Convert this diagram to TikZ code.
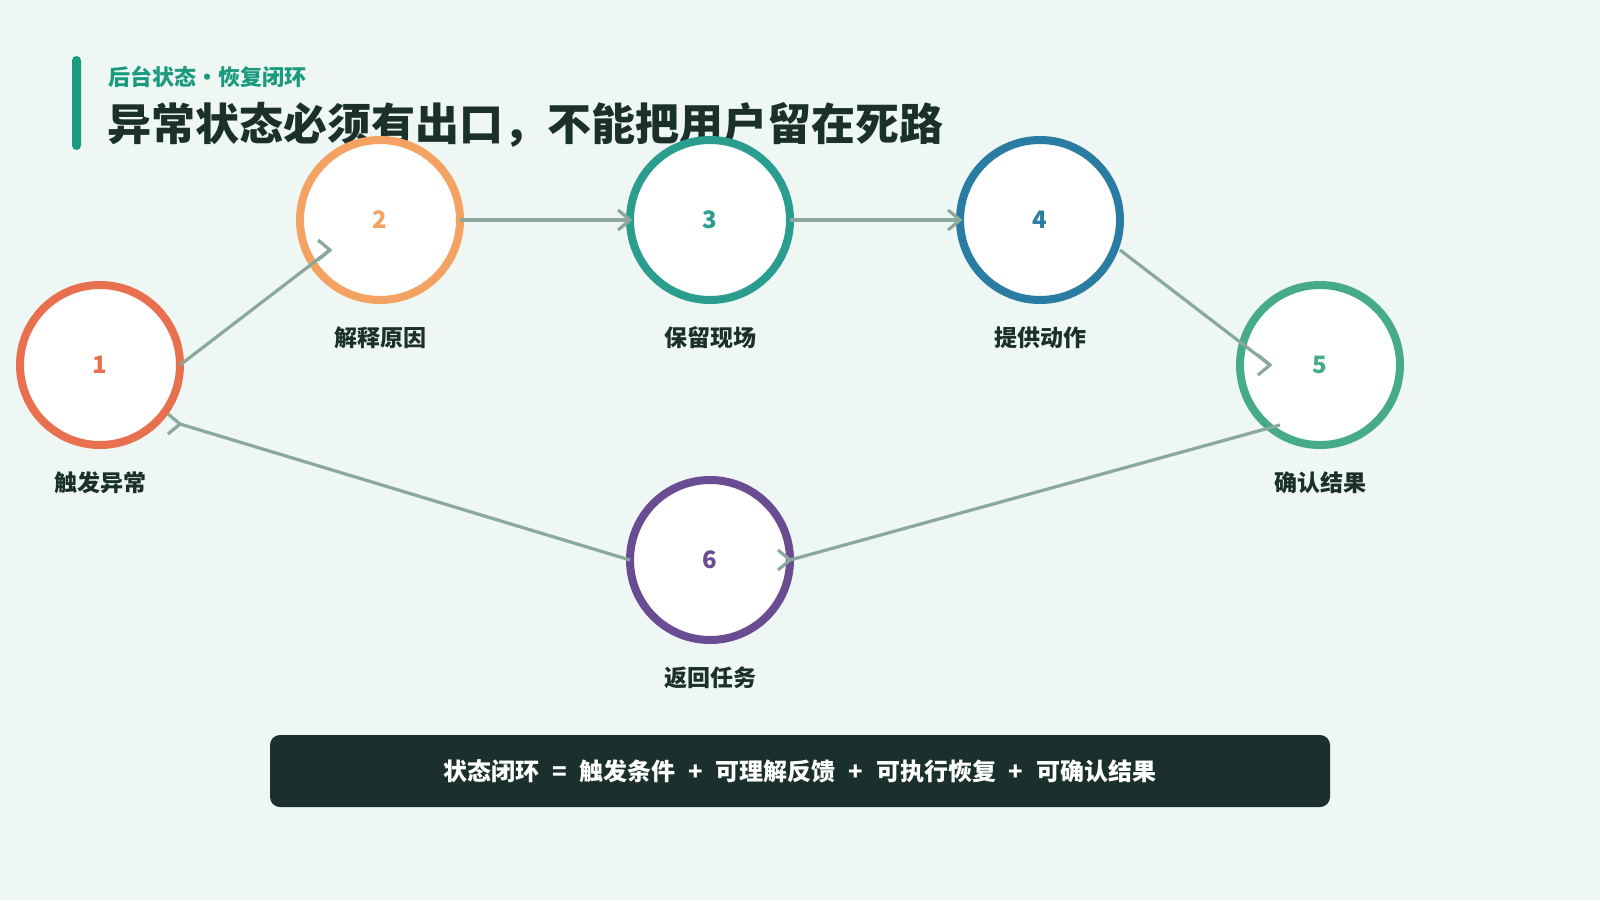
\documentclass[tikz,border=0pt]{standalone}
\usepackage{fontspec}
\setmainfont{Noto Sans CJK SC}
\usetikzlibrary{calc}
\definecolor{bg}{HTML}{EEF7F3}
\definecolor{ink}{HTML}{1B2F2B}
\definecolor{accent}{HTML}{1A9A7E}
\definecolor{edgec}{HTML}{8AA89D}
\definecolor{boxc}{HTML}{1B302C}
\definecolor{c1}{HTML}{E8704F}
\definecolor{c2}{HTML}{F4A261}
\definecolor{c3}{HTML}{2A9D8F}
\definecolor{c4}{HTML}{2A7CA3}
\definecolor{c5}{HTML}{45AB8A}
\definecolor{c6}{HTML}{6A4C93}
\newcommand{\chevat}[1]{\draw[edge] ($(#1)+(-12,-10)$) -- (#1) -- ($(#1)+(-12,10)$);}
\begin{document}
\begin{tikzpicture}[x=1pt,y=-1pt,
  ring/.style={circle,draw,line width=8pt,fill=white,minimum size=160pt,inner sep=0pt,outer sep=0pt,font=\fontsize{24}{28}\selectfont\bfseries},
  lab/.style={font=\fontsize{23}{27}\selectfont\bfseries,text=ink,inner sep=0pt},
  edge/.style={draw=edgec,line width=3.2pt,line join=miter},
]
\fill[bg] (0,0) rectangle (1600,900);
\useasboundingbox (0,0) rectangle (1600,900);
% header
\fill[accent,rounded corners=4.5pt] (72,56) rectangle (81,150);
\node[anchor=west,inner sep=0pt,text=accent,font=\fontsize{22}{26}\selectfont\bfseries] (sub) at (108,76.5) {后台状态•恢复闭环};
\node[anchor=west,inner sep=0pt,text=ink,font=\fontsize{44}{50}\selectfont\bfseries] (title) at (107,125) {异常状态必须有出口，不能把用户留在死路};
% circles
\node[ring,draw=c1,text=c1] (n1) at (100,365) {1};
\node[ring,draw=c2,text=c2] (n2) at (380,220) {2};
\node[ring,draw=c3,text=c3] (n3) at (710,220) {3};
\node[ring,draw=c4,text=c4] (n4) at (1040,220) {4};
\node[ring,draw=c5,text=c5] (n5) at (1320,365) {5};
\node[ring,draw=c6,text=c6] (n6) at (710,560) {6};
% labels
\node[lab] (l1) at (100,483) {触发异常};
\node[lab] (l2) at (380,338) {解释原因};
\node[lab] (l3) at (710,338) {保留现场};
\node[lab] (l4) at (1040,338) {提供动作};
\node[lab] (l5) at (1320,483) {确认结果};
\node[lab] (l6) at (710,678) {返回任务};
% connectors
\coordinate (t12) at ($(n2.center)+(-50,30)$);
\coordinate (s45) at ($(n4.center)+(80,30)$);
\coordinate (t45) at ($(n5.center)+(-50,0)$);
\coordinate (s56) at ($(n5.center)+(-40,60)$);
\coordinate (t61) at ($(n1.center)+(80,59)$);
\draw[edge] (n1.east) -- (t12);
\draw[edge] (n2.east) -- (n3.west);
\draw[edge] (n3.east) -- (n4.west);
\draw[edge] (s45) -- (t45);
\draw[edge] (s56) -- (n6.east);
\draw[edge] (n6.west) -- (t61);
\chevat{t12}
\chevat{n3.west}
\chevat{n4.west}
\chevat{t45}
\chevat{n6.east}
\chevat{t61}
% formula box
\node[fill=boxc,rounded corners=10pt,minimum width=1060pt,minimum height=72pt,inner sep=0pt,text=white,font=\fontsize{24}{28}\selectfont\bfseries] (formula) at (800,771)
  {状态闭环\hspace{0.53em}=\hspace{0.53em}触发条件\hspace{0.53em}+\hspace{0.53em}可理解反馈\hspace{0.53em}+\hspace{0.53em}可执行恢复\hspace{0.53em}+\hspace{0.53em}可确认结果};
\end{tikzpicture}
\end{document}
